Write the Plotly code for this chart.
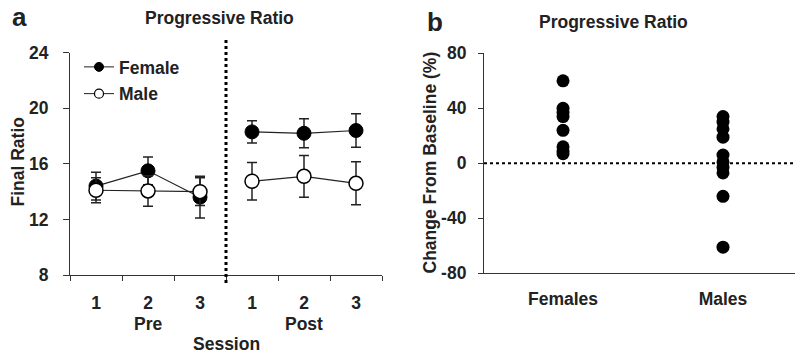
import plotly.graph_objects as go

# ---------------- data ----------------
session_labels = ["1", "2", "3", "1", "2", "3"]
phase_labels = ["Pre", "Post"]
session_pos_pre = [0, 1, 2]
session_pos_post = [3, 4, 5]

female_pre = [14.4, 15.5, 13.6]
female_pre_err = [1.0, 1.0, 1.5]
female_post = [18.3, 18.2, 18.4]
female_post_err = [0.8, 1.05, 1.2]

male_pre = [14.1, 14.05, 14.0]
male_pre_err = [0.9, 1.1, 1.0]
male_post = [14.75, 15.1, 14.6]
male_post_err = [1.35, 1.5, 1.55]

groups_b = ["Females", "Males"]
females_change = [60, 40, 37, 34, 24, 12, 9, 7]
males_change = [34, 30, 25, 19, 6, 1, -3, -7, -24, -61]

FONT = "Liberation Sans"
FS = 17.5
W, H = 795, 354


def px(xp):
    return xp / W


def py(yp):
    return 1 - yp / H


def bold(s):
    return "<b>" + s + "</b>"


fig = go.Figure()

line_style = dict(color="#222", width=1.2)
err_style = dict(type="data", visible=True, color="#222", thickness=1.5, width=5)

for xs, ys, es in [(session_pos_pre, female_pre, female_pre_err),
                   (session_pos_post, female_post, female_post_err)]:
    fig.add_trace(go.Scatter(
        x=xs, y=ys, mode="lines+markers", showlegend=False,
        line=line_style,
        marker=dict(size=14, color="black", line=dict(color="black", width=1)),
        error_y=dict(array=es, **err_style),
        xaxis="x", yaxis="y"))

for xs, ys, es in [(session_pos_pre, male_pre, male_pre_err),
                   (session_pos_post, male_post, male_post_err)]:
    fig.add_trace(go.Scatter(
        x=xs, y=ys, mode="lines+markers", showlegend=False,
        line=line_style,
        marker=dict(size=14, color="white", line=dict(color="black", width=1.5)),
        error_y=dict(array=es, **err_style),
        xaxis="x", yaxis="y"))

# legend-only entries
fig.add_trace(go.Scatter(
    x=[None], y=[None], mode="lines+markers", name=bold("Female"), legendgroup="f",
    line=dict(color="#222", width=1),
    marker=dict(size=9, color="black", line=dict(color="black", width=1)),
    xaxis="x", yaxis="y"))
fig.add_trace(go.Scatter(
    x=[None], y=[None], mode="lines+markers", name=bold("Male"), legendgroup="m",
    line=dict(color="#222", width=1),
    marker=dict(size=9, color="white", line=dict(color="black", width=1.2)),
    xaxis="x", yaxis="y"))

# panel b
fig.add_trace(go.Scatter(
    x=[groups_b[0]] * len(females_change), y=females_change, mode="markers",
    showlegend=False, marker=dict(size=13, color="black"),
    xaxis="x2", yaxis="y2"))
fig.add_trace(go.Scatter(
    x=[groups_b[1]] * len(males_change), y=males_change, mode="markers",
    showlegend=False, marker=dict(size=13, color="black"),
    xaxis="x2", yaxis="y2"))

tickfont = dict(family=FONT, size=FS, color="#222")

fig.update_layout(
    width=W, height=H,
    margin=dict(l=0, r=0, t=0, b=0, autoexpand=False),
    paper_bgcolor="white", plot_bgcolor="white",
    font=dict(family=FONT, size=FS, color="#222"),
    showlegend=True,
    legend=dict(x=px(79), y=py(49), xanchor="left", yanchor="top",
                bgcolor="rgba(0,0,0,0)", font=dict(family=FONT, size=FS, color="#222"),
                tracegroupgap=1, itemwidth=30),
    xaxis=dict(domain=[px(70), px(382)], range=[-0.5, 5.5],
               tickmode="array", tickvals=[0, 1, 2, 3, 4, 5],
               ticktext=[bold(t) for t in session_labels],
               ticks="", showline=True, linecolor="#333", linewidth=1.2,
               showgrid=False, zeroline=False, tickfont=tickfont,
               ticklabelstandoff=12,
               minor=dict(tickmode="array", tickvals=[-0.5, 0.5, 1.5, 2.5, 3.5, 4.5, 5.5],
                          ticks="outside", ticklen=5, tickcolor="#333", tickwidth=1.2,
                          showgrid=False),
               anchor="y"),
    yaxis=dict(domain=[py(275), py(52.7)], range=[8, 24],
               tickmode="array", tickvals=[8, 12, 16, 20, 24],
               ticktext=[bold(str(v)) for v in [8, 12, 16, 20, 24]],
               ticks="outside", ticklen=6, tickcolor="#333", tickwidth=1.2,
               showline=True, linecolor="#333", linewidth=1.2,
               showgrid=False, zeroline=False, tickfont=tickfont,
               ticklabelstandoff=11, anchor="x"),
    xaxis2=dict(domain=[px(484), 1.0], type="category",
                categoryorder="array", categoryarray=groups_b,
                range=[-0.494, 1.45],
                tickvals=groups_b, ticktext=[bold(g) for g in groups_b],
                ticks="", showline=True, linecolor="#333", linewidth=1.2,
                showgrid=False, zeroline=False, tickfont=tickfont,
                ticklabelstandoff=10, anchor="y2"),
    yaxis2=dict(domain=[py(273.3), py(53.3)], range=[-80, 80],
                tickmode="array", tickvals=[-80, -40, 0, 40, 80],
                ticktext=[bold(str(v)) for v in [-80, -40, 0, 40, 80]],
                ticks="outside", ticklen=5, tickcolor="#333", tickwidth=1.2,
                showline=True, linecolor="#333", linewidth=1.2,
                showgrid=False, zeroline=False, tickfont=tickfont,
                ticklabelstandoff=8, anchor="x2"),
)

# dotted separator in panel a
fig.add_shape(type="line", xref="x", yref="paper", x0=2.5, x1=2.5,
              y0=py(283), y1=py(37), line=dict(color="black", width=3, dash="dot"))
# dotted zero line in panel b
fig.add_shape(type="line", xref="x2 domain", yref="y2", x0=0, x1=1, y0=0, y1=0,
              line=dict(color="black", width=2, dash="dot"))

ann = []


def add_text(text, x, y, size=FS, xref="paper", angle=0):
    ann.append(dict(text=bold(text), x=x, y=y, xref=xref, yref="paper",
                    xanchor="center", yanchor="middle", showarrow=False,
                    textangle=angle,
                    font=dict(family=FONT, size=size, color="#222")))


add_text("a", px(19), py(17), size=26)
add_text("b", px(435), py(22), size=26)
add_text("Progressive Ratio", px(219.5), py(18))
add_text("Progressive Ratio", px(613), py(22))
add_text("Final Ratio", px(17), py(162.5), angle=-90)
add_text("Change From Baseline (%)", px(429), py(162.5), angle=-90)
add_text(phase_labels[0], 1, py(324), xref="x")
add_text(phase_labels[1], 4, py(324), xref="x")
add_text("Session", 2.5, py(344), xref="x")

fig.update_layout(annotations=ann)

fig.write_html("out.html",
               config={"displayModeBar": False},
               post_script="document.body.style.margin='0';document.body.style.overflow='hidden';")
